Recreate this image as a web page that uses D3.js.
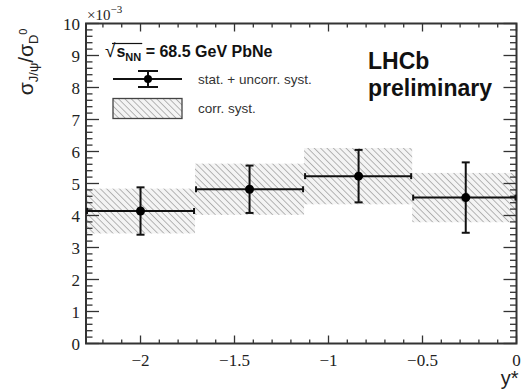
<!DOCTYPE html>
<html>
<head>
<meta charset="utf-8">
<script src="https://cdn.jsdelivr.net/npm/d3@7"></script>
<style>
  body { margin: 0; background: #fff; }
  svg { display: block; }
</style>
</head>
<body>
<div id="chart"></div>
<script>
// bin edges in y*, and measured ratio (x 1e-3)
var binEdges = [-2.29, -1.71, -1.13, -0.555, 0];
var yStar = [-2.0, -1.42, -0.84, -0.27];
var ratio = [4.14, 4.82, 5.23, 4.56];
var statErr = [0.74, 0.74, 0.82, 1.10];
var corrSyst = [0.70, 0.80, 0.88, 0.77];
var xTicks = [-2, -1.5, -1, -0.5, 0];
var yTicks = [0, 1, 2, 3, 4, 5, 6, 7, 8, 9, 10];

var width = 527,
	height = 392;
var margin = {left: 86, right: 10.5, top: 23.5, bottom: 48.5};

var svg = d3.select("#chart").append("svg")
	.attr("width", width)
	.attr("height", height);

var x = d3.scaleLinear()
	.domain([-2.29, 0])
	.range([margin.left, width - margin.right]);
var y = d3.scaleLinear()
	.domain([0, 10])
	.range([height - margin.bottom, margin.top]);

// hatch pattern for correlated syst. (lines going down to the right)
var defs = svg.append("defs");
var pat = defs.append("pattern")
	.attr("id", "hatch")
	.attr("patternUnits", "userSpaceOnUse")
	.attr("width", 4.5)
	.attr("height", 4.5)
	.attr("patternTransform", "rotate(-45)");
pat.append("rect").attr("width", 4.5).attr("height", 4.5).attr("fill", "#f4f4f4");
pat.append("line")
	.attr("x1", 0).attr("y1", 0).attr("x2", 0).attr("y2", 4.5)
	.attr("stroke", "#9a9a9a").attr("stroke-width", 1.4);

var dataset = ratio.map(function(v, i) {
	return {lo: binEdges[i], hi: binEdges[i + 1], x: yStar[i], v: v, stat: statErr[i], syst: corrSyst[i]};
});

// syst boxes
svg.selectAll(".syst")
	.data(dataset)
	.enter()
	.append("rect")
	.attr("class", "syst")
	.attr("x", function(d) { return x(d.lo); })
	.attr("width", function(d) { return x(d.hi) - x(d.lo); })
	.attr("y", function(d) { return y(d.v + d.syst); })
	.attr("height", function(d) { return y(d.v - d.syst) - y(d.v + d.syst); })
	.attr("fill", "url(#hatch)");

// frame
var x0 = x.range()[0], x1 = x.range()[1], y0 = y.range()[0], y1 = y.range()[1];
var axisColor = "#333";

// ticks (ROOT style, inward, on all four sides)
var ticks = svg.append("g").attr("stroke", axisColor).attr("stroke-width", 1.3);
d3.range(0, 10.01, 0.2).forEach(function(v) {
	var major = Math.abs(v - Math.round(v)) < 1e-6;
	var len = major ? 13 : 6.5;
	ticks.append("line").attr("x1", x0).attr("x2", x0 + len).attr("y1", y(v)).attr("y2", y(v));
	ticks.append("line").attr("x1", x1).attr("x2", x1 - len).attr("y1", y(v)).attr("y2", y(v));
});
d3.range(-2.2, 0.001, 0.1).forEach(function(v) {
	var major = Math.abs(v * 2 - Math.round(v * 2)) < 1e-6;
	var len = major ? 8 : 4;
	ticks.append("line").attr("x1", x(v)).attr("x2", x(v)).attr("y1", y0).attr("y2", y0 - len);
	ticks.append("line").attr("x1", x(v)).attr("x2", x(v)).attr("y1", y1).attr("y2", y1 + len);
});

svg.append("rect")
	.attr("x", x0).attr("y", y1)
	.attr("width", x1 - x0).attr("height", y0 - y1)
	.attr("fill", "none")
	.attr("stroke", axisColor)
	.attr("stroke-width", 2);

// tick labels
svg.selectAll(".ylab")
	.data(yTicks)
	.enter()
	.append("text")
	.attr("x", x0 - 6)
	.attr("y", function(d) { return y(d) + 6; })
	.attr("text-anchor", "end")
	.style("font-family", "'Liberation Serif', 'Times New Roman', serif")
	.style("font-size", "17px")
	.attr("fill", "#222")
	.text(function(d) { return d; });

svg.selectAll(".xlab")
	.data(xTicks)
	.enter()
	.append("text")
	.attr("x", function(d) { return x(d); })
	.attr("y", y0 + 22)
	.attr("text-anchor", "middle")
	.style("font-family", "'Liberation Serif', 'Times New Roman', serif")
	.style("font-size", "17px")
	.attr("fill", "#222")
	.text(function(d) { return d < 0 ? "\u2212" + Math.abs(d) : d; });

// x10^-3
var expo = svg.append("text")
	.attr("x", x0 + 1)
	.attr("y", 20)
	.style("font-family", "'Liberation Serif', 'Times New Roman', serif")
	.style("font-size", "15px")
	.attr("fill", "#222");
expo.append("tspan").text("\u00d710");
expo.append("tspan").attr("dy", -7).style("font-size", "11px").text("\u22123");

// axis titles
svg.append("text")
	.attr("x", x1 + 2)
	.attr("y", 385)
	.attr("text-anchor", "end")
	.style("font-family", "'Liberation Sans', Arial, sans-serif")
	.style("font-size", "20px")
	.attr("fill", "#222")
	.text("y*");

var ytitle = svg.append("text")
	.attr("transform", "translate(33," + (y1 + 5) + ") rotate(-90)")
	.attr("text-anchor", "end")
	.style("font-family", "'Liberation Sans', Arial, sans-serif")
	.style("font-size", "21px")
	.attr("fill", "#222");
ytitle.append("tspan").text("\u03c3");
ytitle.append("tspan").attr("dy", 5).style("font-size", "13px").text("J/\u03c8");
ytitle.append("tspan").attr("dy", -5).text("/\u03c3");
ytitle.append("tspan").attr("dy", 5).style("font-size", "13px").text("D");
ytitle.append("tspan").attr("dy", -11).style("font-size", "11px").text("0");

// data points with stat + uncorr. syst errors
var pts = svg.selectAll(".pt")
	.data(dataset)
	.enter()
	.append("g")
	.attr("class", "pt")
	.attr("stroke", "#111")
	.attr("stroke-width", 2);

pts.append("line")
	.attr("x1", function(d) { return x(d.lo) + 1; })
	.attr("x2", function(d) { return x(d.hi) - 1; })
	.attr("y1", function(d) { return y(d.v); })
	.attr("y2", function(d) { return y(d.v); });
pts.append("line")
	.attr("x1", function(d) { return x(d.lo) + 1; })
	.attr("x2", function(d) { return x(d.lo) + 1; })
	.attr("y1", function(d) { return y(d.v) - 3; })
	.attr("y2", function(d) { return y(d.v) + 3; });
pts.append("line")
	.attr("x1", function(d) { return x(d.hi) - 1; })
	.attr("x2", function(d) { return x(d.hi) - 1; })
	.attr("y1", function(d) { return y(d.v) - 3; })
	.attr("y2", function(d) { return y(d.v) + 3; });
pts.append("line")
	.attr("x1", function(d) { return x(d.x); })
	.attr("x2", function(d) { return x(d.x); })
	.attr("y1", function(d) { return y(d.v + d.stat); })
	.attr("y2", function(d) { return y(d.v - d.stat); });
pts.append("line")
	.attr("x1", function(d) { return x(d.x) - 4; })
	.attr("x2", function(d) { return x(d.x) + 4; })
	.attr("y1", function(d) { return y(d.v + d.stat); })
	.attr("y2", function(d) { return y(d.v + d.stat); });
pts.append("line")
	.attr("x1", function(d) { return x(d.x) - 4; })
	.attr("x2", function(d) { return x(d.x) + 4; })
	.attr("y1", function(d) { return y(d.v - d.stat); })
	.attr("y2", function(d) { return y(d.v - d.stat); });
pts.append("circle")
	.attr("cx", function(d) { return x(d.x); })
	.attr("cy", function(d) { return y(d.v); })
	.attr("r", 4.5)
	.attr("stroke", "none")
	.attr("fill", "#000");

// legend
var sans = "'Liberation Sans', Arial, sans-serif";
var head = svg.append("text")
	.attr("x", 105)
	.attr("y", 57)
	.style("font-family", sans)
	.style("font-weight", "bold")
	.style("font-size", "16px")
	.attr("fill", "#111");
head.append("tspan").style("font-weight", "normal").style("font-size", "19px").text("\u221a");
head.append("tspan").attr("dx", 1).text("s");
head.append("tspan").attr("dy", 4).style("font-size", "11px").text("NN");
head.append("tspan").attr("dy", -4).text(" = 68.5 GeV PbNe");
// overline for the square root
var ext = head.node().getExtentOfChar(3);
svg.append("line")
	.attr("x1", 112).attr("x2", ext.x + ext.width + 1)
	.attr("y1", 43.5).attr("y2", 43.5)
	.attr("stroke", "#111").attr("stroke-width", 1.2);

var lg = svg.append("g").attr("stroke", "#111").attr("stroke-width", 2);
lg.append("line").attr("x1", 113).attr("x2", 182).attr("y1", 79).attr("y2", 79);
lg.append("line").attr("x1", 148).attr("x2", 148).attr("y1", 71).attr("y2", 87);
lg.append("line").attr("x1", 138).attr("x2", 158).attr("y1", 71).attr("y2", 71);
lg.append("line").attr("x1", 138).attr("x2", 158).attr("y1", 87).attr("y2", 87);
lg.append("circle").attr("cx", 148).attr("cy", 79).attr("r", 4).attr("stroke", "none").attr("fill", "#000");

svg.append("rect")
	.attr("x", 113).attr("y", 98.5)
	.attr("width", 69).attr("height", 20)
	.attr("fill", "url(#hatch)")
	.attr("stroke", "#444")
	.attr("stroke-width", 1.3);

svg.append("text")
	.attr("x", 198).attr("y", 84)
	.style("font-family", sans)
	.style("font-size", "13.5px")
	.attr("fill", "#333")
	.text("stat. + uncorr. syst.");
svg.append("text")
	.attr("x", 198).attr("y", 113)
	.style("font-family", sans)
	.style("font-size", "13.5px")
	.attr("fill", "#333")
	.text("corr. syst.");

svg.append("text")
	.attr("x", 368).attr("y", 69)
	.style("font-family", sans)
	.style("font-weight", "bold")
	.style("font-size", "23px")
	.attr("fill", "#111")
	.text("LHCb");
svg.append("text")
	.attr("x", 368).attr("y", 96)
	.style("font-family", sans)
	.style("font-weight", "bold")
	.style("font-size", "23px")
	.attr("fill", "#111")
	.text("preliminary");
</script>
</body>
</html>
